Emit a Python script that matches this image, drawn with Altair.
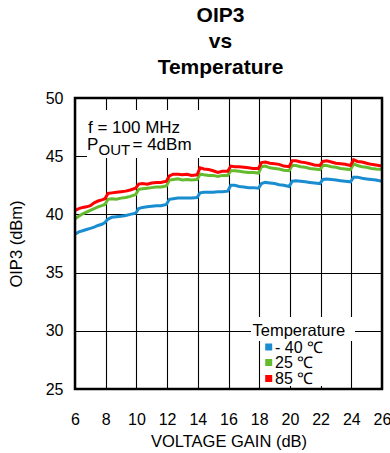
import altair as alt
import pandas as pd

# Voltage gain sweep (dB)
gain_db = [6.0, 6.25, 6.5, 6.75, 7.0, 7.25, 7.5, 7.75, 7.95,
           8.15, 8.4, 8.7, 9.0, 9.3, 9.6, 9.95,
           10.15, 10.4, 10.7, 11.0, 11.3, 11.6, 11.95,
           12.15, 12.4, 12.7, 13.0, 13.3, 13.6, 13.95,
           14.15, 14.4, 14.7, 15.0, 15.3, 15.6, 15.95,
           16.15, 16.4, 16.7, 17.0, 17.3, 17.6, 17.95,
           18.15, 18.4, 18.7, 19.0, 19.3, 19.6, 19.95,
           20.15, 20.4, 20.7, 21.0, 21.3, 21.6, 21.95,
           22.15, 22.4, 22.7, 23.0, 23.3, 23.6, 23.95,
           24.15, 24.4, 24.7, 25.0, 25.3, 25.6, 26.0]

# OIP3 (dBm) at each temperature
oip3_m40 = [38.3, 38.5, 38.6, 38.7, 38.8, 38.9, 39.05, 39.15, 39.3,
            39.6, 39.75, 39.8, 39.85, 39.9, 40.0, 40.1,
            40.5, 40.6, 40.65, 40.7, 40.75, 40.75, 40.85,
            41.3, 41.35, 41.4, 41.4, 41.4, 41.4, 41.45,
            41.85, 41.9, 41.9, 41.9, 41.95, 41.95, 42.0,
            42.5, 42.5, 42.4, 42.35, 42.3, 42.3, 42.25,
            42.65, 42.75, 42.7, 42.65, 42.55, 42.5, 42.4,
            42.85, 42.9, 42.85, 42.8, 42.75, 42.7, 42.65,
            43.0, 43.05, 43.0, 42.95, 42.9, 42.85, 42.8,
            43.2, 43.2, 43.1, 43.05, 43.0, 42.95, 42.85]

oip3_25 = [39.6, 39.85, 40.05, 40.2, 40.35, 40.5, 40.65, 40.75, 40.85,
           41.3, 41.35, 41.3, 41.4, 41.45, 41.55, 41.7,
           42.15, 42.2, 42.25, 42.3, 42.35, 42.35, 42.45,
           42.95, 43.0, 43.05, 42.95, 43.0, 42.95, 43.0,
           43.45, 43.4, 43.35, 43.35, 43.25, 43.35, 43.35,
           43.75, 43.75, 43.7, 43.65, 43.6, 43.6, 43.55,
           44.1, 44.15, 44.0, 43.95, 43.9, 43.8, 43.75,
           44.2, 44.2, 44.1, 44.05, 43.95, 43.9, 43.85,
           44.2, 44.2, 44.1, 44.05, 43.95, 43.9, 43.85,
           44.35, 44.2, 44.1, 44.05, 43.95, 43.9, 43.85]

oip3_85 = [40.35, 40.5, 40.6, 40.65, 40.75, 41.0, 41.15, 41.25, 41.35,
           41.8, 41.85, 41.9, 41.95, 42.0, 42.1, 42.25,
           42.6, 42.65, 42.6, 42.7, 42.75, 42.75, 42.85,
           43.3, 43.45, 43.45, 43.4, 43.45, 43.35, 43.4,
           44.0, 43.9, 43.85, 43.75, 43.6, 43.7, 43.7,
           44.15, 44.1, 44.1, 44.05, 44.0, 43.95, 43.95,
           44.45, 44.5, 44.4, 44.35, 44.3, 44.15, 44.1,
           44.6, 44.6, 44.5, 44.45, 44.35, 44.25, 44.2,
           44.55, 44.6, 44.5, 44.4, 44.35, 44.3, 44.2,
           44.7, 44.55, 44.5, 44.4, 44.3, 44.25, 44.15]

temps = ["- 40 \u2103", "25 \u2103", "85 \u2103"]
colors = ["#1a8dd0", "#63bb2d", "#ff0000"]
x_ticks = [6, 8, 10, 12, 14, 16, 18, 20, 22, 24, 26]
y_ticks = [25, 30, 35, 40, 45, 50]

rows = []
for name, series in zip(temps, [oip3_m40, oip3_25, oip3_85]):
    for g, v in zip(gain_db, series):
        rows.append({"gain": g, "oip3": v, "temp": name})
df = pd.DataFrame(rows)

FONT = "Liberation Sans"
W, H = 307, 291
one = pd.DataFrame({"k": [0]})
temp_scale = alt.Scale(domain=temps, range=colors)


def white_box(x0, x1, y0, y1):
    # opaque patch that hides the grid behind annotation text
    return alt.Chart(one).mark_rect(color="white").encode(
        x=alt.value(x0), x2=alt.value(x1), y=alt.value(y0), y2=alt.value(y1)
    )


def label(text, x, y, size=17, baseline="middle"):
    return alt.Chart(one).mark_text(
        text=text, align="left", baseline=baseline, font=FONT,
        fontSize=size, color="black"
    ).encode(x=alt.value(x), y=alt.value(y))


boxes = [
    white_box(12, 125, 12, 60),       # condition note
    white_box(176, 280, 219, 243),    # legend title row
    white_box(186, 274.5, 243, 288),  # legend entries
]

lines = alt.Chart(df).mark_line(strokeWidth=3, clip=True).encode(
    x=alt.X("gain:Q",
            scale=alt.Scale(domain=[6, 26], nice=False, zero=False),
            axis=alt.Axis(values=x_ticks, title="VOLTAGE GAIN (dB)",
                          labelPadding=22, titlePadding=6,
                          labelFlush=False, labelOverlap=False)),
    y=alt.Y("oip3:Q",
            scale=alt.Scale(domain=[25, 50], nice=False, zero=False),
            axis=alt.Axis(values=y_ticks, title="OIP3 (dBm)",
                          labelPadding=12, titlePadding=21,
                          labelFlush=False, labelOverlap=False)),
    color=alt.Color("temp:N", scale=temp_scale, sort=temps, legend=None),
)

notes = [
    label("f = 100 MHz", 13, 30),
    label("P", 12, 47),
    label("OUT", 23.5, 52, size=15),
    label("= 4dBm", 57.5, 47),
]

# hand-placed key inside the plot
key = [label("Temperature", 177.5, 238, size=16.5, baseline="alphabetic")]
key_rows_y = [249, 264.5, 280.5]
for name, yy in zip(temps, key_rows_y):
    entry = pd.DataFrame({"temp": [name]})
    key.append(
        alt.Chart(entry).mark_square(size=49, opacity=1).encode(
            x=alt.value(193.7), y=alt.value(yy),
            color=alt.Color("temp:N", scale=temp_scale, legend=None))
    )
    key.append(
        alt.Chart(entry).mark_text(
            align="left", baseline="middle", font=FONT, fontSize=16,
            color="black").encode(
            x=alt.value(200), y=alt.value(yy + 0.5), text="temp:N")
    )

frame = alt.Chart(one).mark_rect(
    fillOpacity=0, stroke="black", strokeWidth=2.5
).encode(x=alt.value(0), x2=alt.value(W), y=alt.value(0), y2=alt.value(H))

chart = alt.layer(*boxes, lines, *notes, *key, frame).properties(
    width=W, height=H,
    title=alt.TitleParams(
        text=["OIP3", "vs", "Temperature"], font=FONT, fontSize=21,
        fontWeight="bold", lineHeight=26, anchor="middle", frame="group",
        dx=-8, offset=12, color="black"),
    autosize=alt.AutoSizeParams(type="none"),
    padding={"left": 75, "top": 98, "right": 8, "bottom": 64},
).configure_view(stroke=None).configure_axis(
    domain=False, ticks=False, tickSize=0, grid=True,
    gridColor="black", gridWidth=1.1,
    labelFont=FONT, labelFontSize=16, labelColor="black",
    titleFont=FONT, titleFontSize=16.5, titleFontWeight="normal",
    titleColor="black",
)

chart.save("out.html", embed_options={"renderer": "svg", "actions": False})
